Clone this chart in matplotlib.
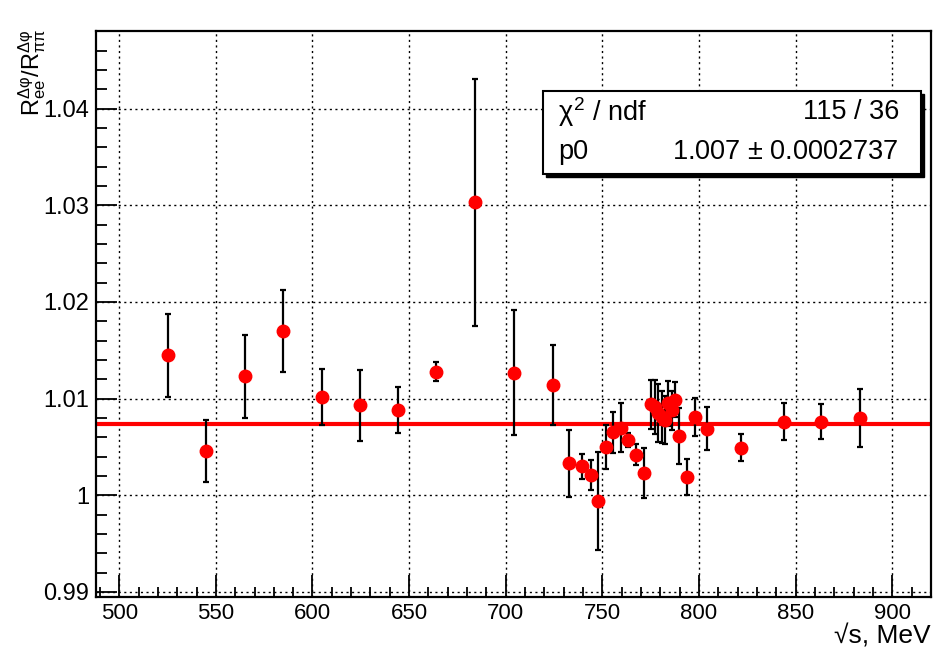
import matplotlib
matplotlib.use("Agg")
import matplotlib.pyplot as plt
from matplotlib.patches import Rectangle
from matplotlib.ticker import MultipleLocator, FuncFormatter

plt.rcParams['font.family'] = ['Liberation Sans', 'DejaVu Sans']
plt.rcParams['mathtext.fontset'] = 'custom'
plt.rcParams['mathtext.rm'] = 'Liberation Sans'
plt.rcParams['mathtext.it'] = 'Liberation Sans'
plt.rcParams['mathtext.bf'] = 'Liberation Sans:bold'

# beam energy points, MeV
energy = [525.2, 544.9, 565.0, 584.7, 604.9, 624.6, 644.3, 664.0, 684.0, 704.2,
          724.4, 732.7, 739.3, 743.9, 747.9, 751.7, 755.6, 759.5, 763.4, 767.2,
          771.7, 775.1, 777.0, 779.0, 780.7, 782.4, 784.1, 786.0, 787.6, 789.6,
          793.6, 797.9, 804.3, 821.7, 844.0, 863.0, 883.3]
# ratio R_ee / R_pipi
ratio = [1.0145, 1.0046, 1.0123, 1.0170, 1.0102, 1.0093, 1.0088, 1.0128, 1.0303, 1.0127,
         1.0114, 1.0033, 1.0030, 1.0021, 0.9994, 1.0050, 1.0065, 1.0070, 1.0057, 1.0042,
         1.0023, 1.0094, 1.0091, 1.0085, 1.0081, 1.0078, 1.0095, 1.0088, 1.0099, 1.0061,
         1.0019, 1.0081, 1.0069, 1.0049, 1.0076, 1.0076, 1.0080]
ratio_err = [0.0043, 0.0032, 0.0043, 0.0042, 0.0029, 0.0037, 0.0024, 0.0010, 0.0128, 0.0065,
             0.0041, 0.0035, 0.0013, 0.0016, 0.0051, 0.0023, 0.0021, 0.0025, 0.0007, 0.0011,
             0.0026, 0.0025, 0.0028, 0.0030, 0.0027, 0.0025, 0.0023, 0.0020, 0.0018, 0.0029,
             0.0019, 0.0020, 0.0022, 0.0014, 0.0019, 0.0018, 0.0030]

# fit result (constant p0)
p0 = 1.00737
chi2_text = "115 / 36"
p0_text = "1.007 $\\pm$ 0.0002737"

fig = plt.figure(figsize=(9.35, 6.51), dpi=100)
ax = fig.add_axes([0.1027, 0.0822, 0.893, 0.8706])

# grid (dotted, like ROOT)
ax.grid(True, which='major', color='black', linestyle=(0, (1.5, 2.5)), linewidth=1.0)
ax.set_axisbelow(True)

# fit line
ax.axhline(p0, color='red', linewidth=3.0, zorder=2)

# data points with error bars
ax.errorbar(energy, ratio, yerr=ratio_err, fmt='o', color='red', markersize=9,
            ecolor='black', elinewidth=1.6, capsize=2.5, capthick=1.6, zorder=3)

ax.set_xlim(488, 920)
ax.set_ylim(0.98943, 1.04805)

ax.xaxis.set_major_locator(MultipleLocator(50))
ax.xaxis.set_minor_locator(MultipleLocator(10))
ax.yaxis.set_major_locator(MultipleLocator(0.01))
ax.yaxis.set_minor_locator(MultipleLocator(0.002))
ax.yaxis.set_major_formatter(FuncFormatter(lambda v, pos: "%g" % round(v, 3)))

ax.tick_params(axis='both', which='both', direction='in', top=False, right=False, width=1.3)
ax.tick_params(axis='x', which='major', length=16, labelsize=16, pad=4)
ax.tick_params(axis='x', which='minor', length=7)
ax.tick_params(axis='y', which='major', length=15, labelsize=17, pad=5)
ax.tick_params(axis='y', which='minor', length=8)

for sp in ax.spines.values():
    sp.set_linewidth(1.6)

# axis titles
fig.text(931 / 935, 1 - 636 / 651, "\u221as, MeV", ha='right', va='center', fontsize=19)
fig.text(32 / 935, 1 - 28 / 651, r"$\mathrm{R_{ee}^{\Delta\varphi}/R_{\pi\pi}^{\Delta\varphi}}$",
         rotation=90, ha='center', va='top', fontsize=17)

# stats box with shadow
bx0, bx1 = 543 / 935, 920.5 / 935
by0, by1 = 1 - 174 / 651, 1 - 90.7 / 651
fig.patches.append(Rectangle((bx0 + 3 / 935, by0 - 3 / 651), bx1 - bx0, by1 - by0,
                             transform=fig.transFigure, facecolor='black', edgecolor='black',
                             zorder=5))
fig.patches.append(Rectangle((bx0, by0), bx1 - bx0, by1 - by0, transform=fig.transFigure,
                             facecolor='white', edgecolor='black', linewidth=1.5, zorder=6))

fig.text(558 / 935, 1 - 112 / 651, r"$\chi^{2}$ / ndf", ha='left', va='center', fontsize=19.5, zorder=7)
fig.text(899 / 935, 1 - 112 / 651, chi2_text, ha='right', va='center', fontsize=19.5, zorder=7)
fig.text(558 / 935, 1 - 152 / 651, "p0", ha='left', va='center', fontsize=19.5, zorder=7)
fig.text(899 / 935, 1 - 152 / 651, p0_text, ha='right', va='center', fontsize=19.5, zorder=7)

fig.savefig("out.png", dpi=100)
